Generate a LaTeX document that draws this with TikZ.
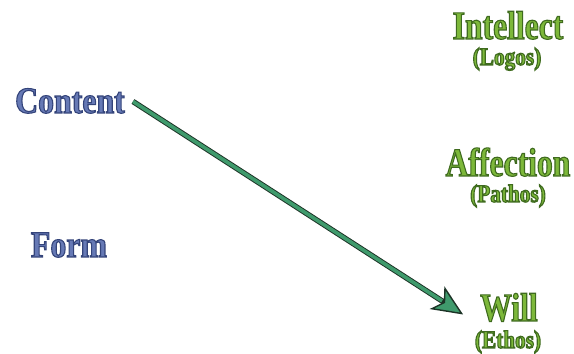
\documentclass[tikz,border=0pt]{standalone}
\usepackage{fontspec}
\usetikzlibrary{arrows.meta,calc}
\newfontfamily\blueface[FakeStretch=0.86]{Liberation Serif Bold}
\newfontfamily\greenface[FakeStretch=0.79]{Liberation Serif Bold}
\newfontfamily\subface[FakeStretch=0.85]{Liberation Serif Bold}
\definecolor{bluefill}{HTML}{6679B5}
\definecolor{blueline}{HTML}{34447A}
\definecolor{greenfill}{HTML}{7DB83A}
\definecolor{greenline}{HTML}{3F6B1F}
\definecolor{arrowfill}{HTML}{3F9A6C}
\definecolor{arrowline}{HTML}{1C3326}
\newcommand{\outlined}[2]{\special{pdf:literal direct 2 Tr 1.1 w #1 RG}#2\special{pdf:literal direct 0 Tr}}
\tikzset{
  bluelbl/.style={inner sep=0pt, anchor=base, text height=25pt, text depth=0pt, text=bluefill, font=\blueface\fontsize{37}{40}\selectfont},
  greenlbl/.style={inner sep=0pt, anchor=base, text height=27pt, text depth=0pt, text=greenfill, font=\greenface\fontsize{40}{44}\selectfont},
  sublbl/.style={inner sep=0pt, anchor=base, text height=18pt, text depth=5pt, text=greenfill, font=\subface\fontsize{25}{28}\selectfont},
}
\begin{document}
\begin{tikzpicture}[x=1pt,y=1pt]
\useasboundingbox (0,0) rectangle (574,354);
\node[bluelbl] (content) at (70,241) {\outlined{0.204 0.267 0.478}{Content}};
\node[bluelbl] (form) at (69,97) {\outlined{0.204 0.267 0.478}{Form}};
\node[greenlbl] (intellect) at (508,315) {\outlined{0.247 0.420 0.122}{Intellect}};
\node[sublbl] (logos) at (507,289) {\outlined{0.247 0.420 0.122}{(Logos)}};
\node[greenlbl] (affection) at (508,178) {\outlined{0.247 0.420 0.122}{Affection}};
\node[sublbl] (pathos) at (508,152) {\outlined{0.247 0.420 0.122}{(Pathos)}};
\node[greenlbl] (will) at (509,33) {\outlined{0.247 0.420 0.122}{Will}};
\node[sublbl] (ethos) at (508,6) {\outlined{0.247 0.420 0.122}{(Ethos)}};
\coordinate (astart) at ([xshift=8pt,yshift=-1pt]content.east);
\coordinate (aend) at ([xshift=-17pt,yshift=-7pt]will.west);
\draw[line width=5.5pt, arrowline, -{Stealth[length=31pt,width=27pt,inset=8pt,line width=1.4pt,fill=arrowfill]}] (astart) -- (aend);
\draw[line width=3.6pt, arrowfill, shorten >=25pt] (astart) -- (aend);
\end{tikzpicture}
\end{document}
